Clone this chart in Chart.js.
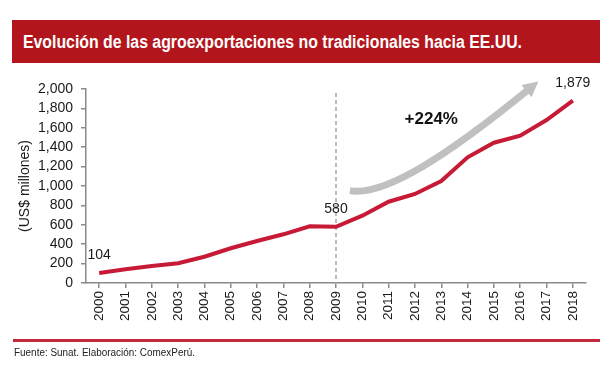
<!DOCTYPE html>
<html>
<head>
<meta charset="utf-8">
<script src="https://cdn.jsdelivr.net/npm/chart.js@4.4.1/dist/chart.umd.min.js"></script>
<style>
  body { margin: 0; background: #fff; }
  #wrap { position: relative; width: 613px; height: 371px; overflow: hidden; font-family: 'Liberation Sans', Arial, sans-serif; }
  #chart { position: absolute; left: 0; top: 0; }
  #banner { position: absolute; left: 12px; top: 20px; width: 588px; height: 43px; background: #b2151b; }
  #banner span { position: absolute; left: 11px; top: 12px; color: #fff; font-weight: bold; font-size: 17.5px; white-space: nowrap; transform-origin: 0 0; }
  #rule { position: absolute; left: 13px; top: 339px; width: 587px; height: 3px; background: #c42a3c; }
  #source { position: absolute; left: 14px; top: 347px; font-size: 10px; color: #222; white-space: nowrap; transform-origin: 0 0; }
</style>
</head>
<body>
<div id="wrap">
  <canvas id="chart" width="613" height="371"></canvas>
  <div id="banner"><span id="title">Evolución de las agroexportaciones no tradicionales hacia EE.UU.</span></div>
  <div id="rule"></div>
  <div id="source">Fuente: Sunat. Elaboración: ComexPerú.</div>
</div>
<script>
// data
const years = ['2000', '2001', '2002', '2003', '2004', '2005', '2006', '2007', '2008', '2009',
               '2010', '2011', '2012', '2013', '2014', '2015', '2016', '2017', '2018'];
const exportsUS = [104, 141, 175, 203, 271, 358, 433, 502, 585, 580,
                   694, 838, 918, 1052, 1296, 1446, 1519, 1680, 1879];
const labelledYears = ['2000', '2009', '2018'];
const growthText = '+224%';
const yMin = 0, yMax = 2000, yStep = 200;

// squeeze the title and source lines to the widths they have in the original
function fitWidth(id, target) {
    const el = document.getElementById(id);
    el.style.transform = 'scaleX(' + (target / el.getBoundingClientRect().width) + ')';
}
fitWidth('title', 499);
fitWidth('source', 181);

const overlay = {
    id: 'overlay',
    beforeDatasetsDraw(chart, args, opts) {
        const { ctx, scales: { x, y } } = chart;
        // dashed marker at 2009
        const xp = x.getPixelForValue(years.indexOf(opts.markerYear));
        ctx.save();
        ctx.strokeStyle = '#a6a6a6';
        ctx.lineWidth = 1.5;
        ctx.setLineDash([4, 3]);
        ctx.beginPath();
        ctx.moveTo(xp, y.getPixelForValue(opts.markerTop));
        ctx.lineTo(xp, y.getPixelForValue(0));
        ctx.stroke();
        ctx.restore();
    },
    afterDatasetsDraw(chart, args, opts) {
        const { ctx, scales: { x, y } } = chart;
        const pt = p => [x.getPixelForValue(p[0]), y.getPixelForValue(p[1])];

        // grey growth arrow
        const [p0, p1, p2, p3, tip] = opts.arrow.map(pt);
        ctx.save();
        ctx.strokeStyle = '#c0c0c0';
        ctx.fillStyle = '#c0c0c0';
        ctx.lineWidth = 7;
        ctx.beginPath();
        ctx.moveTo(p0[0], p0[1]);
        ctx.bezierCurveTo(p1[0], p1[1], p2[0], p2[1], p3[0], p3[1]);
        ctx.stroke();
        const dx = tip[0] - p3[0], dy = tip[1] - p3[1];
        const len = Math.hypot(dx, dy);
        const nx = -dy / len * 8, ny = dx / len * 8;
        ctx.beginPath();
        ctx.moveTo(tip[0], tip[1]);
        ctx.lineTo(p3[0] + nx - dx * 0.1, p3[1] + ny - dy * 0.1);
        ctx.lineTo(p3[0] - nx - dx * 0.1, p3[1] - ny - dy * 0.1);
        ctx.closePath();
        ctx.fill();

        // growth text
        const g = pt(opts.growthAt);
        ctx.fillStyle = '#111';
        ctx.font = 'bold 17px "Liberation Sans", Arial, sans-serif';
        ctx.textAlign = 'center';
        ctx.textBaseline = 'middle';
        ctx.fillText(growthText, g[0], g[1]);

        // value labels
        const meta = chart.getDatasetMeta(0);
        ctx.font = '14px "Liberation Sans", Arial, sans-serif';
        ctx.fillStyle = '#1a1a1a';
        labelledYears.forEach(yr => {
            const i = years.indexOf(yr);
            const el = meta.data[i];
            ctx.fillText(exportsUS[i].toLocaleString('en-US'), el.x, el.y - 18);
        });
        ctx.restore();
    }
};

new Chart(document.getElementById('chart'), {
    type: 'line',
    data: {
        labels: years,
        datasets: [{
            data: exportsUS,
            borderColor: '#c71a36',
            borderWidth: 4,
            pointRadius: 0,
            tension: 0,
            fill: false
        }]
    },
    options: {
        responsive: false,
        animation: false,
        locale: 'en-US',
        layout: { padding: { top: 89, right: 27, bottom: 38, left: 0 } },
        font: { family: '"Liberation Sans", Arial, sans-serif' },
        scales: {
            x: {
                offset: true,
                afterFit: s => { s.height = 50; },
                grid: { drawOnChartArea: false, color: '#8a8a8a', tickLength: 5, lineWidth: 1.5 },
                border: { color: '#8a8a8a', width: 1.5 },
                ticks: {
                    minRotation: 90, maxRotation: 90, padding: 3, autoSkip: false,
                    color: '#1a1a1a', font: { size: 13.5, family: '"Liberation Sans", Arial, sans-serif' }
                }
            },
            y: {
                min: yMin, max: yMax,
                afterFit: s => { s.width = 86; },
                grid: { drawOnChartArea: false, color: '#8a8a8a', tickLength: 5, lineWidth: 1.5 },
                border: { color: '#8a8a8a', width: 1.5 },
                ticks: {
                    stepSize: yStep, padding: 8, autoSkip: false,
                    color: '#1a1a1a', font: { size: 14, family: '"Liberation Sans", Arial, sans-serif' }
                },
                title: {
                    display: true, text: '(US$ millones)', color: '#1a1a1a',
                    padding: { top: 17, bottom: 0 },
                    font: { size: 14, family: '"Liberation Sans", Arial, sans-serif' }
                }
            }
        },
        plugins: {
            legend: { display: false },
            tooltip: { enabled: false },
            overlay: {
                markerYear: '2009',
                markerTop: 1960,
                arrow: [[9.53, 952], [10.87, 890], [13.32, 1334], [16.28, 1987], [16.69, 2078]],
                growthAt: [12.62, 1688]
            }
        }
    },
    plugins: [overlay]
});
</script>
</body>
</html>
